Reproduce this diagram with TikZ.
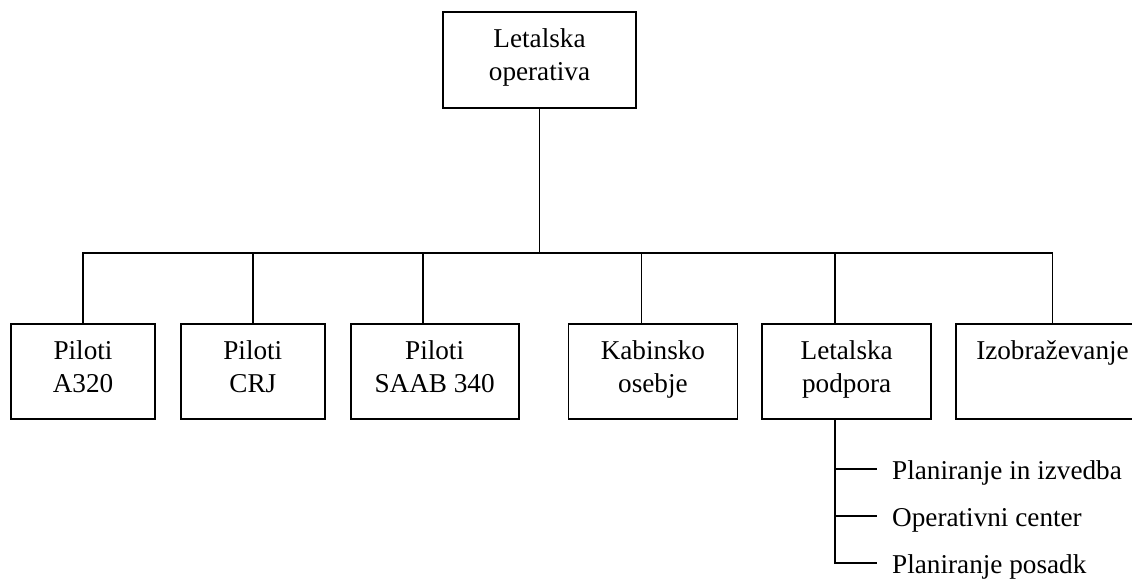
\documentclass[tikz,border=0pt]{standalone}
\usepackage{fontspec}
\setmainfont{Liberation Serif}
\usetikzlibrary{positioning,calc}
\tikzset{
  link/.style={line width=1.8pt, draw=black},
  unit/.style={draw=black, line width=1.8pt, fill=white, minimum height=95pt, inner sep=0pt},
  lbl/.style={align=center, inner sep=0pt},
  item/.style={anchor=west, inner xsep=15pt, inner ysep=0pt, text height=20pt, text depth=0pt},
}
\begin{document}
\begin{tikzpicture}[x=1pt,y=-1pt,node distance=24pt,
      font=\fontsize{27.2}{33}\selectfont]
    \clip (0,0) rectangle (1132,581);
    % head of the unit
    \node[unit,minimum width=193pt,minimum height=96pt] (ops) at (539.5,60) {};
    \node[lbl,below=17.4pt of ops.north] (opst) {Letalska\\operativa};
    % departments
    \node[unit,minimum width=144pt] (a320) at (83,371.5) {};
    \node[unit,minimum width=144pt,right=of a320] (crj) {};
    \node[unit,minimum width=168pt,right=of crj] (saab) {};
    \node[unit,minimum width=169pt,right=48pt of saab] (kab) {};
    \node[unit,minimum width=169pt,right=23pt of kab] (podp) {};
    \node[unit,minimum width=193pt,right=23pt of podp] (izob) {};
    \node[lbl,below=17.4pt of a320.north] (a320t) {Piloti\\A320};
    \node[lbl,below=17.4pt of crj.north] (crjt) {Piloti\\CRJ};
    \node[lbl,below=17.4pt of saab.north] (saabt) {Piloti\\SAAB 340};
    \node[lbl,below=17.4pt of kab.north] (kabt) {Kabinsko\\osebje};
    \node[lbl,below=17.4pt of podp.north] (podpt) {Letalska\\podpora};
    \node[lbl,below=17.4pt of izob.north] (izobt) {Izobraževanje};
    \coordinate (bus) at ($(ops.south)+(0,144)$);
    \draw[link] (ops) -- (bus);
    \foreach \n/\dx in {a320/0,crj/0,saab/-12,kab/-11.5,podp/-12,izob/0}
      \draw[link] ([xshift=\dx pt]\n.north) |- (bus);
    % sections of Letalska podpora
    \coordinate (stem) at ([xshift=-12pt]podp.south);
    \node[item] (plan) at (877,469) {Planiranje in izvedba};
    \node[item] (occ) at (877,516) {Operativni center};
    \node[item] (crew) at (877,563) {Planiranje posadk};
    \foreach \n in {plan,occ,crew}
      \draw[link] (stem) |- (\n.west);
\end{tikzpicture}
\end{document}
